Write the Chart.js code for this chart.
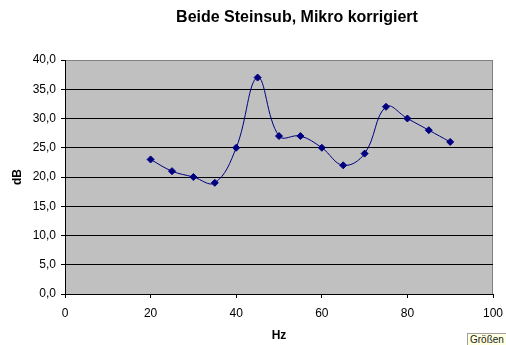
<!DOCTYPE html>
<html>
<head>
<meta charset="utf-8">
<script src="https://cdn.jsdelivr.net/npm/chart.js@4.4.1/dist/chart.umd.min.js"></script>
<style>
  html, body { margin: 0; padding: 0; background: #ffffff; }
  #wrap { position: relative; width: 506px; height: 345px; overflow: hidden; }
  #groessen { position: absolute; left: 467px; top: 333px; height: 13px; padding: 0 2px; font: 10px "Liberation Sans", Arial, sans-serif; line-height: 12px; color: #222; background: #ffffe1; border: 1px solid #a0a0a0; white-space: nowrap; }
</style>
</head>
<body>
<div id="wrap">
  <canvas id="c" width="506" height="345"></canvas>
  <div id="groessen">Größen</div>
</div>
<script>
const chartTitle = 'Beide Steinsub, Mikro korrigiert';
const xAxisTitle = 'Hz';
const yAxisTitle = 'dB';
const hzValues = [20, 25, 30, 35, 40, 45, 50, 55, 60, 65, 70, 75, 80, 85, 90];
const dbValues = [23, 21, 20, 19, 25, 37, 27, 27, 25, 22, 24, 32, 30, 28, 26];
const xTickValues = [0, 20, 40, 60, 80, 100];
const xTickLabels = ['0', '20', '40', '60', '80', '100'];
const yTickValues = [0, 5, 10, 15, 20, 25, 30, 35, 40];
const yTickLabels = ['0,0', '5,0', '10,0', '15,0', '20,0', '25,0', '30,0', '35,0', '40,0'];

const FONT = '"Liberation Sans", Arial, sans-serif';

const plotFrame = {
  id: 'plotFrame',
  beforeDraw(chart) {
    const { ctx, chartArea: a } = chart;
    ctx.save();
    ctx.fillStyle = '#c0c0c0';
    ctx.fillRect(a.left, a.top, a.right - a.left, a.bottom - a.top);
    ctx.strokeStyle = '#808080';
    ctx.lineWidth = 1;
    ctx.beginPath();
    ctx.moveTo(a.left, a.top + 0.5);
    ctx.lineTo(a.right - 0.5, a.top + 0.5);
    ctx.lineTo(a.right - 0.5, a.bottom);
    ctx.stroke();
    ctx.restore();
  },
  afterDraw(chart) {
    const { ctx } = chart;
    ctx.save();
    ctx.fillStyle = '#000';
    ctx.font = 'bold 16px ' + FONT;
    ctx.textAlign = 'center';
    ctx.textBaseline = 'alphabetic';
    ctx.fillText(chartTitle, 297, 21.5);
    ctx.restore();
  }
};

new Chart(document.getElementById('c'), {
  type: 'line',
  data: {
    datasets: [{
      data: hzValues.map((x, i) => ({ x: x, y: dbValues[i] })),
      borderColor: '#000080',
      backgroundColor: '#000080',
      borderWidth: 1,
      tension: 0.4,
      pointStyle: 'rectRot',
      pointRadius: 3.5,
      pointHoverRadius: 3.5,
      pointBorderWidth: 1,
      pointBackgroundColor: '#000080',
      pointBorderColor: '#000080',
      fill: false
    }]
  },
  options: {
    responsive: false,
    devicePixelRatio: 1,
    animation: false,
    events: [],
    layout: { padding: { top: 60, right: 13, bottom: 0, left: 0 } },
    plugins: { legend: { display: false }, tooltip: { enabled: false }, title: { display: false } },
    scales: {
      x: {
        type: 'linear',
        min: 0, max: 100,
        afterFit(s) { s.height = 51; s.paddingLeft = 0; s.paddingRight = 0; },
        afterBuildTicks(s) { s.ticks = xTickValues.map(v => ({ value: v })); },
        ticks: {
          padding: 8,
          color: '#000',
          font: { family: FONT, size: 12 },
          maxRotation: 0,
          callback: (v) => xTickLabels[xTickValues.indexOf(v)]
        },
        grid: { drawOnChartArea: false, drawTicks: true, tickLength: 4, tickColor: '#000' },
        border: { display: true, color: '#000', width: 1 },
        title: { display: true, text: xAxisTitle, color: '#000', font: { family: FONT, size: 12, weight: 'bold' }, padding: { top: 0, bottom: 2 } }
      },
      y: {
        type: 'linear',
        min: 0, max: 40,
        afterFit(s) { s.width = 65; s.paddingTop = 0; s.paddingBottom = 0; },
        afterBuildTicks(s) { s.ticks = yTickValues.map(v => ({ value: v })); },
        ticks: {
          padding: 5,
          color: '#000',
          font: { family: FONT, size: 12 },
          callback: (v) => yTickLabels[yTickValues.indexOf(v)]
        },
        grid: {
          color: (c) => (c.tick && c.tick.value === 40 ? '#808080' : (c.tick && c.tick.value === 0 ? 'rgba(0,0,0,0)' : '#000')),
          lineWidth: 1,
          drawTicks: true,
          tickLength: 4,
          tickColor: '#000'
        },
        border: { display: true, color: '#000', width: 1 },
        title: { display: true, text: yAxisTitle, color: '#000', font: { family: FONT, size: 12, weight: 'bold' }, padding: { top: 10, bottom: 0 } }
      }
    }
  },
  plugins: [plotFrame]
});
</script>
</body>
</html>
